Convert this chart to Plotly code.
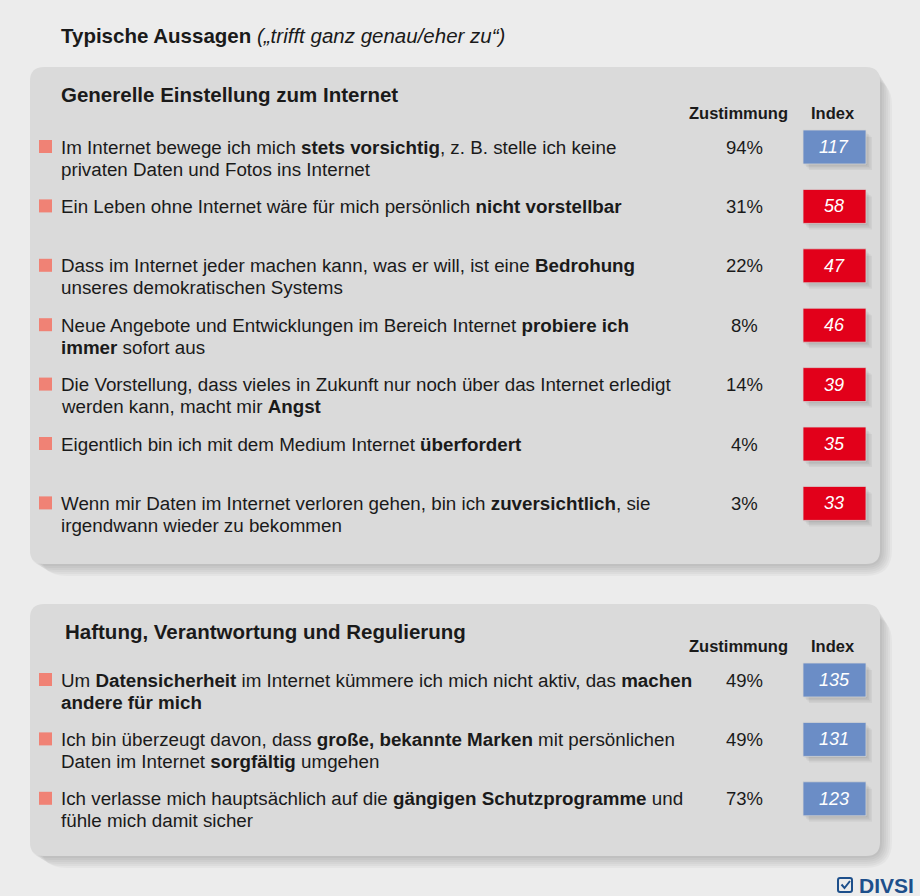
import plotly.graph_objects as go

# Daten
titel = "<b>Typische Aussagen</b> <i>(„trifft ganz genau/eher zu“)</i>"

section_1 = "Generelle Einstellung zum Internet"
aussagen_1 = [
    "Im Internet bewege ich mich <b>stets vorsichtig</b>, z. B. stelle ich keine<br>privaten Daten und Fotos ins Internet",
    "Ein Leben ohne Internet wäre für mich persönlich <b>nicht vorstellbar</b>",
    "Dass im Internet jeder machen kann, was er will, ist eine <b>Bedrohung</b><br>unseres demokratischen Systems",
    "Neue Angebote und Entwicklungen im Bereich Internet <b>probiere ich</b><br><b>immer</b> sofort aus",
    "Die Vorstellung, dass vieles in Zukunft nur noch über das Internet erledigt<br>werden kann, macht mir <b>Angst</b>",
    "Eigentlich bin ich mit dem Medium Internet <b>überfordert</b>",
    "Wenn mir Daten im Internet verloren gehen, bin ich <b>zuversichtlich</b>, sie<br>irgendwann wieder zu bekommen",
]
zustimmung_1 = [94, 31, 22, 8, 14, 4, 3]
index_1 = [117, 58, 47, 46, 39, 35, 33]

section_2 = "Haftung, Verantwortung und Regulierung"
aussagen_2 = [
    "Um <b>Datensicherheit</b> im Internet kümmere ich mich nicht aktiv, das <b>machen</b><br><b>andere für mich</b>",
    "Ich bin überzeugt davon, dass <b>große, bekannte Marken</b> mit persönlichen<br>Daten im Internet <b>sorgfältig</b> umgehen",
    "Ich verlasse mich hauptsächlich auf die <b>gängigen Schutzprogramme</b> und<br>fühle mich damit sicher",
]
zustimmung_2 = [49, 49, 73]
index_2 = [135, 131, 123]

FONT = "Liberation Sans, Arial, sans-serif"
TXT = "#1a1a1a"
BG = "#ececec"
PANEL = "#dadada"
BLUE = "#6b8dc6"
RED = "#e2001a"
BULLET = "#f08275"
LOGO = "#1d4f8b"


def rounded_rect(x0, y0, x1, y1, r):
    return (
        f"M{x0 + r},{y0} L{x1 - r},{y0} Q{x1},{y0} {x1},{y0 + r} "
        f"L{x1},{y1 - r} Q{x1},{y1} {x1 - r},{y1} L{x0 + r},{y1} "
        f"Q{x0},{y1} {x0},{y1 - r} L{x0},{y0 + r} Q{x0},{y0} {x0 + r},{y0} Z"
    )


fig = go.Figure()
shapes = []
annotations = []


def add_panel(y0, y1):
    # weicher Schatten
    for i in range(6):
        d = 2 + i * 2
        shapes.append(dict(type="path", path=rounded_rect(30 + d - 2, y0 + d, 880 + d, y1 + d, 14 + d),
                           fillcolor="#000000", opacity=0.03, line=dict(width=0), layer="below"))
    shapes.append(dict(type="path", path=rounded_rect(30, y0, 880, y1, 14),
                       fillcolor=PANEL, line=dict(width=0), layer="below"))


def add_section(name, title_x, title_y, header_y, row_y0, aussagen, zustimmung, index):
    annotations.append(dict(x=title_x, y=title_y, text=f"<b>{name}</b>", xanchor="left", yanchor="middle",
                            showarrow=False, font=dict(size=20.5, color=TXT)))
    annotations.append(dict(x=738, y=header_y, text="<b>Zustimmung</b>", showarrow=False,
                            font=dict(size=16.5, color=TXT)))
    annotations.append(dict(x=833, y=header_y, text="<b>Index</b>", showarrow=False,
                            font=dict(size=16.5, color=TXT)))
    for i, (txt, z, idx) in enumerate(zip(aussagen, zustimmung, index)):
        y = row_y0 + i * 59.4
        shapes.append(dict(type="rect", x0=39, x1=52, y0=y - 7, y1=y + 6,
                           fillcolor=BULLET, line=dict(width=0)))
        for k, zeile in enumerate(txt.split("<br>")):
            annotations.append(dict(x=59, y=y + k * 22, text=zeile, xanchor="left", yanchor="middle",
                                    showarrow=False, font=dict(size=18.8, color=TXT)))
        annotations.append(dict(x=744, y=y, text=f"{z}%", showarrow=False,
                                font=dict(size=18.5, color=TXT)))
        for k in range(4):
            d = 1.5 + k * 1.5
            shapes.append(dict(type="rect", x0=803 + d, x1=866 + d, y0=y - 17 + d + 1, y1=y + 17 + d,
                               fillcolor="#000000", opacity=0.045, line=dict(width=0)))
        shapes.append(dict(type="rect", x0=803, x1=866, y0=y - 17, y1=y + 17,
                           fillcolor=BLUE if idx > 100 else RED, line=dict(color="#d4d4d4", width=0.8)))
        annotations.append(dict(x=834, y=y, text=f"<i>{idx}</i>", showarrow=False,
                                font=dict(size=18, color="white")))


add_panel(67, 564)
add_panel(604, 856)
annotations.append(dict(x=59, y=35, text=titel, xanchor="left", yanchor="middle", showarrow=False,
                        font=dict(size=20.5, color=TXT)))
add_section(section_1, 59, 94, 113, 147, aussagen_1, zustimmung_1, index_1)
add_section(section_2, 63, 631, 646, 680, aussagen_2, zustimmung_2, index_2)

# DIVSI-Logo
shapes.append(dict(type="path", path=rounded_rect(838, 878, 852, 892, 2),
                   fillcolor="rgba(0,0,0,0)", line=dict(color=LOGO, width=2)))
shapes.append(dict(type="path", path="M841.5,884.5 L844.5,888 L850,881",
                   line=dict(color=LOGO, width=2)))
annotations.append(dict(x=916, y=885, text="<b>DIVSI</b>", xanchor="right", yanchor="middle",
                        showarrow=False, font=dict(size=21, color=LOGO)))

# unsichtbare Spur, damit die Achsen gelten
fig.add_trace(go.Scatter(x=[0, 920], y=[0, 896], mode="markers", marker=dict(opacity=0),
                         hoverinfo="skip", showlegend=False))

fig.update_layout(
    width=920, height=896,
    margin=dict(l=0, r=0, t=0, b=0),
    paper_bgcolor=BG, plot_bgcolor=BG,
    font=dict(family=FONT, color=TXT),
    xaxis=dict(range=[0, 920], visible=False, fixedrange=True),
    yaxis=dict(range=[896, 0], visible=False, fixedrange=True),
    shapes=shapes, annotations=annotations,
    showlegend=False,
)

fig.write_html("out.html", config={"displayModeBar": False},
               post_script="document.body.style.margin='0px';document.body.style.overflow='hidden';")
